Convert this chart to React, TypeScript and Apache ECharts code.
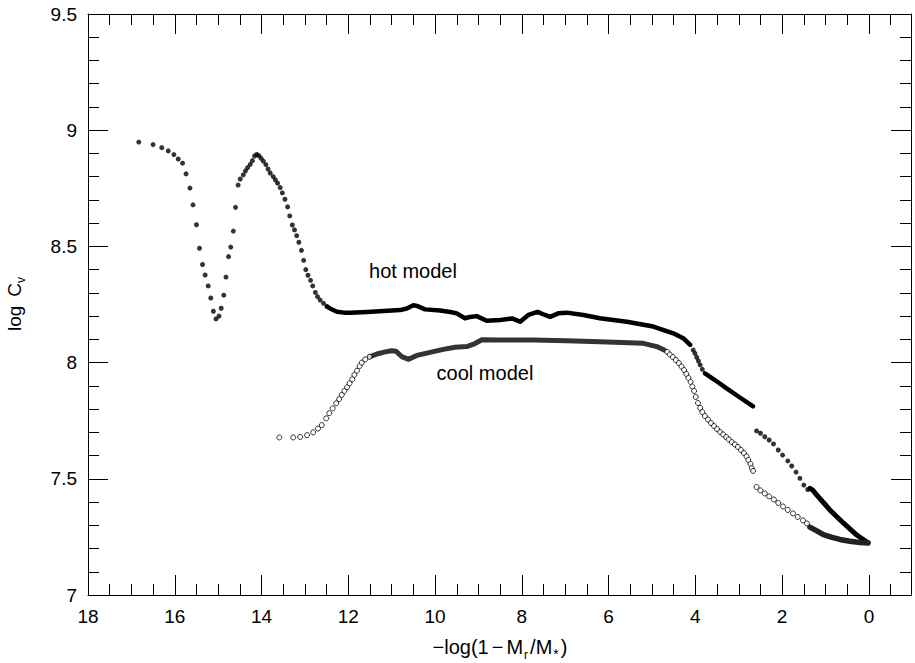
import React, { useEffect, useRef } from "react";
import * as echarts from "echarts";

// Axis extents and tick positions
const X_MIN = -0.97;
const X_MAX = 18;
const Y_MIN = 7;
const Y_MAX = 9.5;
const xMajorTicks = [0, 2, 4, 6, 8, 10, 12, 14, 16, 18];
const xMinorTicks = [
  -0.5, 0.5, 1, 1.5, 2.5, 3, 3.5, 4.5, 5, 5.5, 6.5, 7, 7.5, 8.5, 9, 9.5, 10.5, 11, 11.5,
  12.5, 13, 13.5, 14.5, 15, 15.5, 16.5, 17, 17.5,
];

// Hot model: individually resolved points (filled dots)
const hotDotsOuter = [
  [16.83, 8.949], [16.5, 8.938], [16.3, 8.925], [16.15, 8.911], [16.02, 8.895], [15.92, 8.876],
  [15.82, 8.858], [15.74, 8.812], [15.65, 8.751], [15.58, 8.679], [15.5, 8.593], [15.43, 8.492],
  [15.36, 8.422], [15.3, 8.377], [15.23, 8.33], [15.17, 8.278], [15.11, 8.221], [15.05, 8.188],
  [14.98, 8.2], [14.93, 8.234], [14.87, 8.29], [14.82, 8.368], [14.76, 8.456], [14.71, 8.497],
  [14.65, 8.566], [14.6, 8.668], [14.54, 8.764], [14.49, 8.79], [14.42, 8.808], [14.37, 8.825],
  [14.32, 8.839], [14.26, 8.853], [14.21, 8.869], [14.16, 8.889], [14.11, 8.896], [14.06, 8.89],
  [14.01, 8.879], [13.96, 8.867], [13.9, 8.852], [13.85, 8.833], [13.8, 8.816], [13.73, 8.8],
  [13.68, 8.786], [13.63, 8.772], [13.57, 8.753], [13.52, 8.73], [13.46, 8.703], [13.4, 8.67],
  [13.35, 8.631], [13.29, 8.592], [13.24, 8.571], [13.19, 8.546], [13.14, 8.518], [13.08, 8.483],
  [13.03, 8.44], [12.98, 8.4], [12.93, 8.376], [12.87, 8.354], [12.82, 8.33], [12.76, 8.302],
  [12.71, 8.284], [12.65, 8.269], [12.57, 8.255], [12.49, 8.241],
];
const hotDotsMid = [[4.05, 8.054], [4.01, 8.04], [3.97, 8.023], [3.93, 8.007], [3.89, 7.99], [3.84, 7.971]];
const hotDotsInner = [
  [2.59, 7.706], [2.5, 7.696], [2.4, 7.681], [2.3, 7.667], [2.2, 7.65], [2.09, 7.624], [1.99, 7.602],
  [1.87, 7.577], [1.78, 7.555], [1.68, 7.529], [1.59, 7.502], [1.5, 7.473], [1.41, 7.454],
];

// Hot model: densely sampled stretches (points merge into a solid band)
const hotBandOuter = [
  [12.49, 8.241], [12.41, 8.232], [12.26, 8.219], [12.1, 8.215], [11.96, 8.214], [11.57, 8.218],
  [11.19, 8.222], [10.81, 8.226], [10.65, 8.233], [10.5, 8.247], [10.42, 8.244], [10.23, 8.229],
  [9.88, 8.224], [9.65, 8.218], [9.5, 8.212], [9.31, 8.191], [9.2, 8.196], [9.04, 8.2], [8.81, 8.18],
  [8.5, 8.183], [8.23, 8.19], [8.04, 8.176], [7.85, 8.205], [7.64, 8.218], [7.48, 8.206],
  [7.35, 8.197], [7.16, 8.212], [6.97, 8.215], [6.58, 8.205], [6.2, 8.191], [5.58, 8.176],
  [4.97, 8.155], [4.51, 8.126], [4.28, 8.105], [4.12, 8.076],
];
const hotBandMid = [[3.78, 7.954], [3.55, 7.925], [3.28, 7.889], [3.0, 7.853], [2.67, 7.812]];
const hotBandInner = [
  [1.36, 7.459], [1.3, 7.452], [1.2, 7.43], [1.05, 7.398], [0.9, 7.366], [0.59, 7.31], [0.28, 7.258],
  [0.02, 7.225],
];

// Cool model: individually resolved points (open circles)
const coolDotsOuter = [
  [13.59, 7.678], [13.27, 7.678], [13.11, 7.68], [12.95, 7.688], [12.81, 7.7], [12.7, 7.716],
  [12.61, 7.731], [12.51, 7.76], [12.44, 7.782], [12.36, 7.803], [12.28, 7.825], [12.21, 7.843],
  [12.15, 7.861], [12.09, 7.878], [12.03, 7.894], [11.97, 7.911], [11.91, 7.928], [11.86, 7.947],
  [11.8, 7.965], [11.74, 7.985], [11.69, 8.0], [11.61, 8.014], [11.51, 8.025],
];
const coolDotsMid = [
  [4.65, 8.046], [4.59, 8.035], [4.52, 8.024], [4.45, 8.011], [4.38, 7.998], [4.32, 7.983],
  [4.26, 7.968], [4.21, 7.951], [4.16, 7.934], [4.11, 7.917], [4.07, 7.897], [4.03, 7.878],
  [3.99, 7.852], [3.94, 7.826], [3.89, 7.805], [3.84, 7.787], [3.78, 7.77], [3.71, 7.755],
  [3.64, 7.74], [3.57, 7.727], [3.5, 7.714], [3.43, 7.701], [3.36, 7.691], [3.29, 7.68],
  [3.23, 7.669], [3.16, 7.658], [3.09, 7.648], [3.02, 7.637], [2.95, 7.624], [2.88, 7.611],
  [2.82, 7.596], [2.78, 7.581], [2.73, 7.564], [2.7, 7.546], [2.67, 7.534],
];
const coolDotsInner = [
  [2.59, 7.465], [2.5, 7.45], [2.4, 7.437], [2.3, 7.424], [2.19, 7.411], [2.09, 7.396], [1.98, 7.381],
  [1.87, 7.366], [1.75, 7.351], [1.64, 7.336], [1.52, 7.321], [1.43, 7.308],
];

// Cool model: densely sampled stretches
const coolBandOuter = [
  [11.51, 8.025], [11.34, 8.037], [11.15, 8.046], [11.0, 8.051], [10.9, 8.049], [10.77, 8.026],
  [10.61, 8.014], [10.42, 8.031], [10.19, 8.041], [10.04, 8.047], [9.81, 8.057], [9.54, 8.066],
  [9.27, 8.069], [9.08, 8.082], [8.92, 8.098], [8.5, 8.097], [7.74, 8.097], [6.97, 8.094],
  [6.2, 8.09], [5.2, 8.083], [4.89, 8.069], [4.72, 8.054],
];
const coolBandInner = [
  [1.36, 7.292], [1.2, 7.276], [1.05, 7.26], [0.85, 7.248], [0.67, 7.239], [0.44, 7.231],
  [0.21, 7.226], [0.02, 7.224],
];

// Curve annotations (anchor in data coordinates)
const hotLabelAt = [10.51, 8.394];
const coolLabelAt = [8.85, 7.955];

const FONT = "'Liberation Sans', Arial, Helvetica, sans-serif";
const INK = "#000";

function xAxisDef(position: "top" | "bottom", ticks: number[], len: number, withLabels: boolean, withLine: boolean) {
  return {
    type: "value",
    position,
    min: X_MIN,
    max: X_MAX,
    inverse: true,
    axisLine: { show: withLine, onZero: false, lineStyle: { color: INK, width: 1 } },
    axisTick: { show: true, inside: true, length: len, customValues: ticks, lineStyle: { color: INK, width: 1 } },
    axisLabel: withLabels
      ? { show: true, customValues: xMajorTicks, margin: 12, fontSize: 19, fontFamily: FONT, color: "#000" }
      : { show: false },
    splitLine: { show: false },
  };
}

function yAxisDef(position: "left" | "right", withLabels: boolean) {
  return {
    type: "value",
    position,
    min: Y_MIN,
    max: Y_MAX,
    interval: 0.5,
    axisLine: { show: true, onZero: false, lineStyle: { color: INK, width: 1 } },
    axisTick: { show: true, inside: true, length: 20, lineStyle: { color: INK, width: 1 } },
    minorTick: { show: true, splitNumber: 5, length: 11, lineStyle: { color: INK, width: 1 } },
    axisLabel: withLabels
      ? { show: true, margin: 11, fontSize: 19, fontFamily: FONT, color: "#000" }
      : { show: false },
    splitLine: { show: false },
    minorSplitLine: { show: false },
  };
}

function band(data: number[][], color: string, width: number) {
  return {
    type: "line",
    data,
    symbol: "none",
    showSymbol: false,
    silent: true,
    lineStyle: { color, width, cap: "round", join: "round" },
    z: 3,
  };
}

function filledDots(data: number[][]) {
  return {
    type: "scatter",
    data,
    symbol: "circle",
    symbolSize: 5,
    silent: true,
    itemStyle: { color: "#000" },
    z: 4,
  };
}

function openDots(data: number[][]) {
  return {
    type: "scatter",
    data,
    symbol: "circle",
    symbolSize: 5,
    silent: true,
    itemStyle: { color: "#fff", borderColor: "#000", borderWidth: 1 },
    z: 4,
  };
}

function annotation(at: number[], text: string) {
  return {
    type: "scatter",
    data: [at],
    symbolSize: 0,
    silent: true,
    label: {
      show: true,
      position: "inside",
      formatter: text,
      fontSize: 20,
      fontFamily: FONT,
      color: "#000",
      opacity: 1,
    },
    z: 5,
  };
}

export default function App() {
  const ref = useRef<HTMLDivElement>(null);

  useEffect(() => {
    if (!ref.current) return;
    const chart = echarts.init(ref.current, undefined, { renderer: "svg" });
    chart.setOption({
      animation: false,
      backgroundColor: "#fff",
      grid: { left: 88, right: 4, top: 14, bottom: 68, containLabel: false },
      xAxis: [
        xAxisDef("bottom", xMajorTicks, 20, true, true),
        xAxisDef("bottom", xMinorTicks, 11, false, false),
        xAxisDef("top", xMajorTicks, 20, false, true),
        xAxisDef("top", xMinorTicks, 11, false, false),
      ],
      yAxis: [yAxisDef("left", true), yAxisDef("right", false)],
      series: [
        band(hotBandOuter, "#000", 4.5),
        band(hotBandMid, "#000", 4.5),
        band(hotBandInner, "#000", 5),
        band(coolBandOuter, "#333", 5),
        band(coolBandInner, "#222", 5.5),
        filledDots(hotDotsOuter),
        filledDots(hotDotsMid),
        filledDots(hotDotsInner),
        openDots(coolDotsOuter),
        openDots(coolDotsMid),
        openDots(coolDotsInner),
        annotation(hotLabelAt, "hot model"),
        annotation(coolLabelAt, "cool model"),
      ],
      graphic: [
        {
          type: "text",
          x: 500,
          y: 647,
          silent: true,
          style: {
            text: "{m|−log(1}{p|−}{m|M}{s|r}{m|/M}{a|*}{m|)}",
            align: "center",
            verticalAlign: "middle",
            fill: "#000",
            rich: {
              m: { fontSize: 20, lineHeight: 28, fontFamily: FONT, fill: "#000", padding: [0, 1, 0, 1] },
              p: { fontSize: 20, lineHeight: 28, fontFamily: FONT, fill: "#000", padding: [0, 2, 0, 2] },
              s: { fontSize: 12, lineHeight: 12, fontFamily: FONT, fill: "#000", verticalAlign: "bottom", padding: [0, 1, 0, 0] },
              a: { fontSize: 14, lineHeight: 14, fontFamily: FONT, fill: "#000", verticalAlign: "bottom", padding: [0, 1, 0, 0] },
            },
          },
        },
        {
          type: "text",
          x: 14,
          y: 304,
          rotation: Math.PI / 2,
          silent: true,
          style: {
            text: "{m|log}{c|C}{s|v}",
            align: "center",
            verticalAlign: "middle",
            fill: "#000",
            rich: {
              m: { fontSize: 19, lineHeight: 26, fontFamily: FONT, fill: "#000" },
              c: { fontSize: 19, lineHeight: 26, fontFamily: FONT, fill: "#000", padding: [0, 0, 0, 9] },
              s: { fontSize: 12, lineHeight: 12, fontFamily: FONT, fill: "#000", verticalAlign: "bottom" },
            },
          },
        },
      ],
    });
    return () => chart.dispose();
  }, []);

  return (
    <div
      ref={ref}
      style={{ position: "absolute", left: 0, top: 0, width: 915, height: 663, background: "#fff" }}
    />
  );
}
